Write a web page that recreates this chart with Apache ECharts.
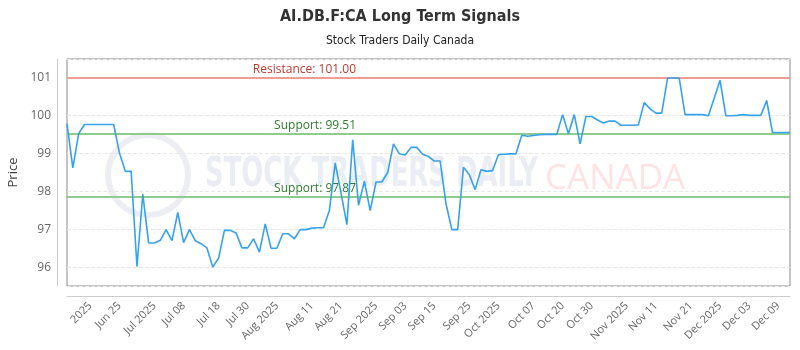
<!DOCTYPE html>
<html>
<head>
<meta charset="utf-8">
<script src="https://cdn.jsdelivr.net/npm/echarts@6/dist/echarts.min.js"></script>
<style>html,body{margin:0;padding:0;background:#fff}#chart{width:800px;height:350px}</style>
</head>
<body>
<div id="chart"></div>
<script>
var titleText = 'AI.DB.F:CA Long Term Signals';
var subtitleText = 'Stock Traders Daily Canada';

var categories = [
  '', '', '', '', '2025', '', '', '', '', 'Jun 25',
  '', '', '', '', '', 'Jul 2025', '', '', '', '',
  'Jul 08', '', '', '', '', '', 'Jul 18', '', '', '',
  '', 'Jul 30', '', '', '', '', 'Aug 2025', '', '', '',
  '', '', 'Aug 11', '', '', '', '', 'Aug 21', '', '',
  '', '', '', 'Sep 2025', '', '', '', '', 'Sep 03', '',
  '', '', '', 'Sep 15', '', '', '', '', '', 'Sep 25',
  '', '', '', '', 'Oct 2025', '', '', '', '', '',
  'Oct 07', '', '', '', '', 'Oct 20', '', '', '', '',
  'Oct 30', '', '', '', '', '', 'Nov 2025', '', '', '',
  '', 'Nov 11', '', '', '', '', '', 'Nov 21', '', '',
  '', '', 'Dec 2025', '', '', '', '', 'Dec 03', '', '',
  '', '', 'Dec 09', '', ''
];

var prices = [
  99.78, 98.62, 99.52, 99.76, 99.76, 99.76, 99.76, 99.76, 99.76, 99.01,
  98.53, 98.53, 96.03, 97.93, 96.65, 96.65, 96.72, 97.00, 96.71, 97.45,
  96.66, 97.00, 96.71, 96.63, 96.52, 96.02, 96.25, 96.98, 96.98, 96.91,
  96.52, 96.52, 96.76, 96.41, 97.15, 96.51, 96.51, 96.89, 96.89, 96.76,
  97.00, 97.00, 97.04, 97.05, 97.05, 97.50, 98.75, 97.96, 97.13, 99.36,
  97.64, 98.27, 97.50, 98.25, 98.25, 98.50, 99.25, 98.99, 98.96, 99.16,
  99.16, 98.98, 98.92, 98.80, 98.80, 97.68, 97.00, 97.00, 98.64, 98.44,
  98.05, 98.57, 98.53, 98.55, 98.97, 98.98, 98.99, 98.99, 99.48, 99.45,
  99.47, 99.49, 99.50, 99.50, 99.50, 100.02, 99.52, 100.02, 99.25, 99.97,
  99.97, 99.88, 99.80, 99.85, 99.85, 99.74, 99.74, 99.74, 99.75, 100.34,
  100.17, 100.06, 100.06, 100.98, 100.98, 100.98, 100.02, 100.02, 100.02, 100.02,
  99.99, 100.45, 100.92, 99.99, 99.99, 100.00, 100.02, 100.00, 100.00, 100.00,
  100.39, 99.55, 99.55, 99.55, 99.55
];

var resistanceLevels = [101.00];
var supportLevels = [99.51, 97.87];
var yMin = 95.52;
var yMax = 101.48;

var markData = [];
resistanceLevels.forEach(function (v) {
  markData.push({
    yAxis: v,
    lineStyle: { color: '#f19b96', width: 2, type: 'solid' },
    label: { formatter: 'Resistance: ' + v.toFixed(2), color: '#c0392b' }
  });
});
supportLevels.forEach(function (v) {
  markData.push({
    yAxis: v,
    lineStyle: { color: '#8fcb8f', width: 2, type: 'solid' },
    label: { formatter: 'Support: ' + v.toFixed(2), color: '#2e7d32' }
  });
});

var chart = echarts.init(document.getElementById('chart'), null, { renderer: 'canvas' });
chart.setOption({
  animation: false,
  backgroundColor: '#fff',
  title: {
    text: titleText,
    subtext: subtitleText,
    left: 'center',
    top: 4,
    itemGap: 10,
    textStyle: { fontSize: 16, fontWeight: 'bold', color: '#333', fontFamily: "'Liberation Sans Narrow', 'DejaVu Sans Condensed', Roboto, sans-serif" },
    subtextStyle: { fontSize: 12, color: '#222', fontFamily: "'Liberation Sans Narrow', 'DejaVu Sans Condensed', Roboto, sans-serif" }
  },
  graphic: [
    { type: 'circle', z: 0, silent: true, shape: { cx: 148, cy: 175, r: 40 }, style: { fill: 'rgba(0,0,0,0)', stroke: '#eceef3', lineWidth: 6 } },
    { type: 'text', z: 0, silent: true, x: 205, y: 176, scaleX: 0.72, style: { text: 'STOCK TRADERS DAILY', fill: '#eaedf3', font: 'bold 40px "Liberation Sans Narrow", "DejaVu Sans Condensed", sans-serif', verticalAlign: 'middle' } },
    { type: 'text', z: 0, silent: true, x: 545, y: 179, style: { text: 'CANADA', fill: '#fde3e3', font: '35px "Open Sans", sans-serif', verticalAlign: 'middle' } }
  ],
  grid: {
    left: 67, right: 10, top: 59, bottom: 64,
    containLabel: false,
    outerBoundsMode: 'none',
    show: true, borderColor: '#888', borderWidth: 1, backgroundColor: 'transparent'
  },
  xAxis: {
    type: 'category',
    data: categories,
    boundaryGap: false,
    offset: 10,
    axisLine: { show: true, lineStyle: { color: '#ccc' } },
    axisTick: { show: false },
    splitLine: { show: false },
    axisLabel: { interval: 0, rotate: 45, color: '#666', fontSize: 11, margin: 8, fontFamily: "'Open Sans', sans-serif", hideOverlap: false }
  },
  yAxis: {
    type: 'value',
    min: yMin,
    max: yMax,
    offset: 10,
    name: 'Price',
    nameLocation: 'middle',
    nameGap: 33,
    nameTextStyle: { fontSize: 13, color: '#444', fontFamily: "'Open Sans', sans-serif" },
    axisLine: { show: true, lineStyle: { color: '#ccc' } },
    axisTick: { show: false },
    axisLabel: { color: '#666', fontSize: 12, margin: 6, showMinLabel: false, showMaxLabel: false, fontFamily: "'Open Sans', sans-serif" },
    splitLine: { show: true, lineStyle: { color: '#e6e6e6', type: 'dashed' } }
  },
  series: [{
    type: 'line',
    data: prices,
    z: 3,
    showSymbol: false,
    lineStyle: { color: '#36a2eb', width: 1.6 },
    itemStyle: { color: '#36a2eb' },
    markLine: {
      silent: true,
      symbol: 'none',
      z: 2,
      label: { position: 'insideEndTop', distance: [434, 2], fontSize: 12, fontFamily: "'Open Sans', sans-serif" },
      data: markData
    }
  }]
});
</script>
</body>
</html>
